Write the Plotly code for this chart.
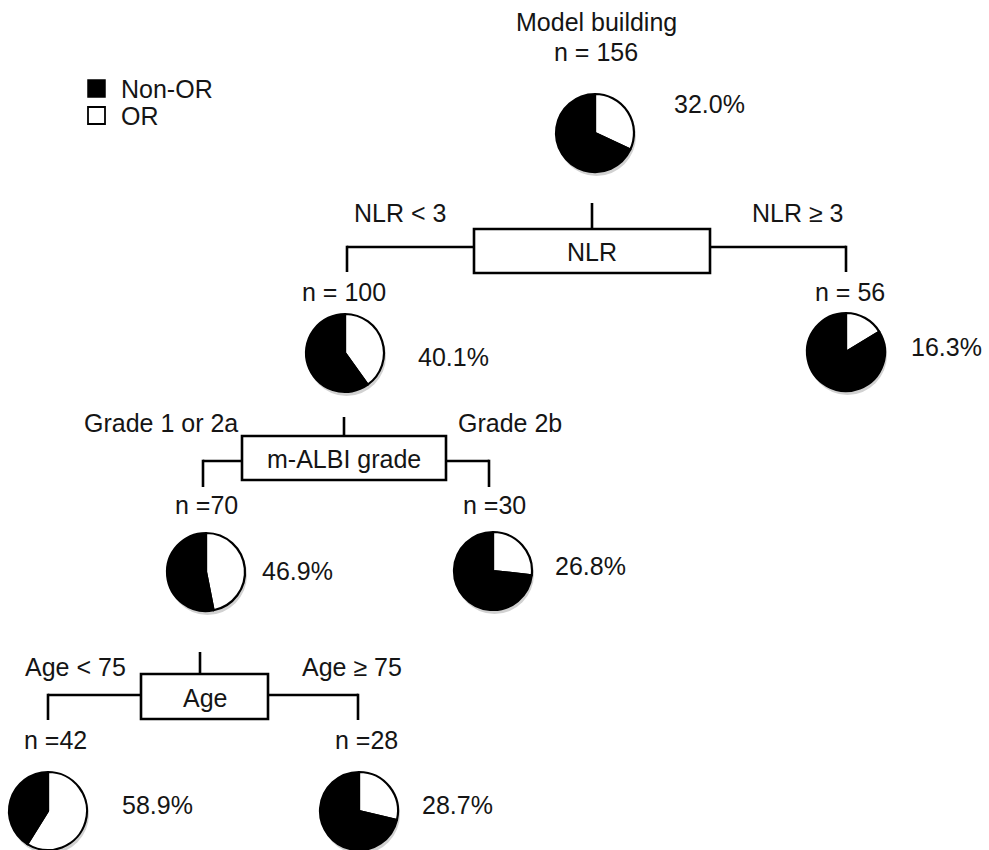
import plotly.graph_objects as go

# ---- data ----
node_n = ["n = 156", "n = 100", "n = 56", "n =70", "n =30", "n =42", "n =28"]
or_pct = [32.0, 40.1, 16.3, 46.9, 26.8, 58.9, 28.7]
pct_labels = ["32.0%", "40.1%", "16.3%", "46.9%", "26.8%", "58.9%", "28.7%"]
class_labels = ["Non-OR", "OR"]
split_names = ["NLR", "m-ALBI grade", "Age"]
branch_left = ["NLR < 3", "Grade 1 or 2a", "Age < 75"]
branch_right = ["NLR \u2265 3", "Grade 2b", "Age \u2265 75"]
title_text = "Model building"

# ---- layout (pixel coordinates) ----
W, H = 989, 850
R = 39
pie_centers = [(595, 133), (345, 353), (846, 352), (206, 572), (493, 571), (48, 811), (359, 811)]
pct_pos = [(709, 104), (453, 357), (946, 347), (297, 571), (590, 566), (157, 805), (457, 805)]
n_pos = [(596, 52), (344, 292), (850, 292), (206, 505), (494, 505), (55, 740), (366, 740)]
boxes = [
    dict(box=(474, 229, 710, 273), stem_x=592, stem_top=203, hy=247, lx=347, rx=846, bot=272),
    dict(box=(242, 436, 446, 480), stem_x=344, stem_top=417, hy=461, lx=203, rx=489, bot=487),
    dict(box=(141, 674, 268, 719), stem_x=200, stem_top=652, hy=695, lx=48, rx=358, bot=720),
]
left_lab_pos = [(400, 213), (161, 423), (75, 667)]
right_lab_pos = [(798, 213), (510, 423), (352, 667)]

FONT = "Liberation Sans, Arial, sans-serif"
FS = 25
TC = "#151515"
LW = 2.6

fig = go.Figure()

for i, (cx, cy) in enumerate(pie_centers):
    fig.add_trace(go.Pie(
        labels=[class_labels[1], class_labels[0]],
        values=[or_pct[i], 100 - or_pct[i]],
        sort=False,
        direction="clockwise",
        rotation=0,
        marker=dict(colors=["#ffffff", "#000000"], line=dict(color="#000000", width=2.2)),
        textinfo="none",
        hoverinfo="label+percent",
        showlegend=False,
        domain=dict(x=[(cx - R) / W, (cx + R) / W], y=[max(0, 1 - (cy + R) / H), 1 - (cy - R) / H]),
    ))

fig.add_trace(go.Scatter(x=[0, W], y=[0, H], mode="markers", marker=dict(opacity=0),
                         showlegend=False, hoverinfo="skip"))

shapes = []
annotations = []

def line(x0, y0, x1, y1):
    shapes.append(dict(type="line", x0=x0, y0=y0, x1=x1, y1=y1, xref="x", yref="y",
                       line=dict(color="black", width=LW), layer="above"))

def text(x, y, s, anchor="center"):
    annotations.append(dict(x=x, y=y, xref="x", yref="y", text=s, showarrow=False,
                            xanchor=anchor, yanchor="middle",
                            font=dict(family=FONT, size=FS, color=TC)))

for (cx, cy) in pie_centers:
    shapes.append(dict(type="circle", xref="x", yref="y", x0=cx - R + 1, x1=cx + R + 2, y0=cy - R + 2, y1=cy + R + 4,
                       fillcolor="rgba(0,0,0,0.18)", line=dict(width=0), layer="below"))

for i, b in enumerate(boxes):
    x0, y0, x1, y1 = b["box"]
    shapes.append(dict(type="rect", x0=x0, y0=y0, x1=x1, y1=y1, xref="x", yref="y",
                       line=dict(color="black", width=LW), fillcolor="white", layer="above"))
    line(b["stem_x"], b["stem_top"], b["stem_x"], y0)
    line(b["lx"], b["hy"], x0, b["hy"])
    line(x1, b["hy"], b["rx"], b["hy"])
    line(b["lx"], b["hy"] - 1.3, b["lx"], b["bot"])
    line(b["rx"], b["hy"] - 1.3, b["rx"], b["bot"])
    text((x0 + x1) / 2, (y0 + y1) / 2 + 1, split_names[i])
    text(*left_lab_pos[i], branch_left[i])
    text(*right_lab_pos[i], branch_right[i])

text(596, 22, title_text)
for i in range(len(node_n)):
    text(*n_pos[i], node_n[i])
    text(*pct_pos[i], pct_labels[i])

shapes.append(dict(type="rect", xref="x", yref="y", x0=88, x1=105, y0=80, y1=97,
                   fillcolor="black", line=dict(color="black", width=1.5), layer="above"))
shapes.append(dict(type="rect", xref="x", yref="y", x0=88, x1=105, y0=107, y1=124,
                   fillcolor="white", line=dict(color="black", width=1.8), layer="above"))
text(119, 89, class_labels[0], anchor="left")
text(119, 116, class_labels[1], anchor="left")

fig.update_layout(
    width=W, height=H,
    margin=dict(l=0, r=0, t=0, b=0),
    paper_bgcolor="white", plot_bgcolor="white",
    xaxis=dict(range=[0, W], visible=False, fixedrange=True),
    yaxis=dict(range=[H, 0], visible=False, fixedrange=True),
    shapes=shapes,
    annotations=annotations,
    showlegend=False,
)

fig.write_html("out.html", config={"displayModeBar": False},
               post_script="document.body.style.margin='0';document.body.style.overflow='hidden';")
